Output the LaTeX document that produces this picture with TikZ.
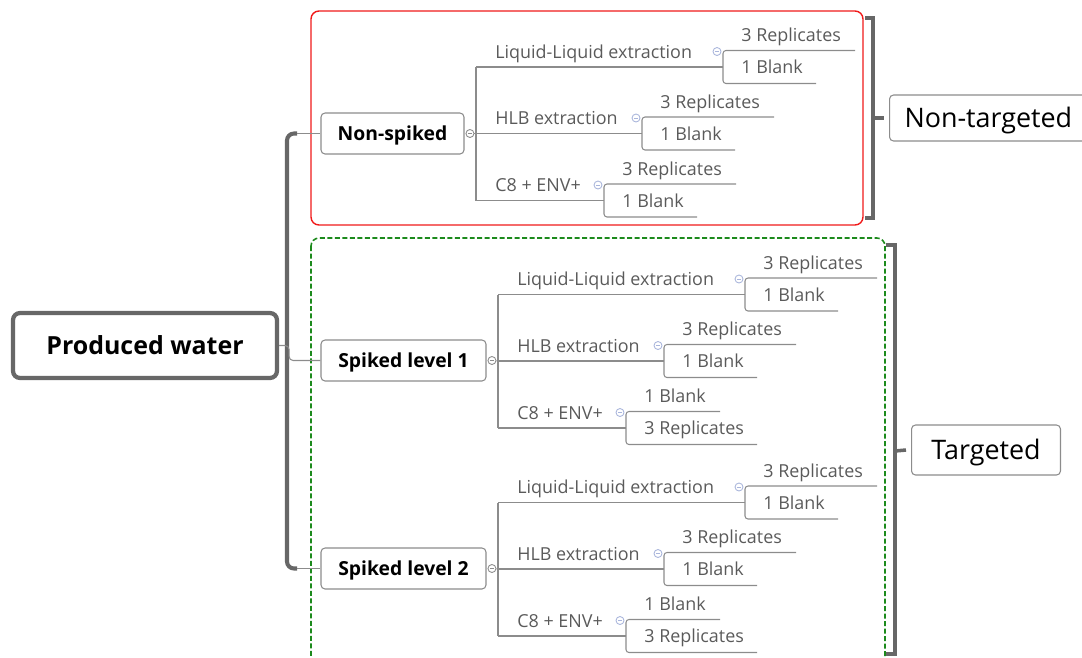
\documentclass[tikz,border=0pt]{standalone}
\usepackage{fontspec}
\setmainfont{Open Sans}
\usetikzlibrary{positioning}

\definecolor{linegray}{HTML}{8C8C8C}
\definecolor{darkgray}{HTML}{676767}
\definecolor{textgray}{HTML}{5A5A5A}
\definecolor{foldblue}{HTML}{AAB6DC}
\definecolor{boxred}{HTML}{F01A1A}
\definecolor{boxgreen}{HTML}{1C8A1C}

\tikzset{
    root/.style={draw=darkgray, line width=2.4pt, rounded corners=0.14cm, fill=white,
        minimum width=5.28cm, minimum height=1.3cm, text height=12.5pt, text depth=2.4pt,
        font=\fontsize{14.2}{16}\selectfont\bfseries},
    topic/.style={draw=linegray, line width=0.6pt, rounded corners=0.08cm, fill=white,
        minimum height=0.82cm, text height=9.8pt, text depth=1.95pt,
        font=\fontsize{11}{13}\selectfont\bfseries},
    tag/.style={draw=linegray, line width=0.6pt, rounded corners=0.08cm, fill=white,
        inner xsep=0.3cm, text height=13.5pt, text depth=2.6pt, font=\fontsize{15.3}{18}\selectfont},
    leaf/.style={text=textgray, inner sep=0pt, anchor=base west, font=\fontsize{10.2}{12}\selectfont},
    fold/.style={circle, draw=#1, fill=white, line width=0.5pt, inner sep=0pt, minimum size=0.16cm,
        path picture={\draw[#1, line width=0.5pt] ([xshift=0.04cm]path picture bounding box.west)
            -- ([xshift=-0.04cm]path picture bounding box.east);}},
    link/.style={draw=linegray, line width=0.6pt},
    trunk/.style={draw=darkgray, line width=2.3pt},
    bracket/.style={draw=darkgray, line width=2pt},
}

\begin{document}
\begin{tikzpicture}[x=0.02cm, y=-0.02cm]
    \clip (0,0) rectangle (1082,657);

    % Frames round the two groups
    \draw[boxred, line width=0.8pt, rounded corners=0.16cm] (311,11) rectangle (863,225);
    \draw[boxgreen, line width=0.9pt, dash pattern=on 0.1cm off 0.05cm, rounded corners=0.16cm]
        (311,238) rectangle (885,700);

    % Main topics
    \node[root] (pw) at (145,345.5) {Produced water};
    \node[topic, minimum width=2.86cm] (ns) at (392.5,133.5) {Non-spiked};
    \node[topic, minimum width=3.3cm] (s1) at (403.5,360.5) {Spiked level 1};
    \node[topic, minimum width=3.3cm] (s2) at (403.5,568.5) {Spiked level 2};

    % Trunk from the root to the three sample types
    \coordinate (ttop) at (297,133.5);
    \coordinate (tbot) at (297,568.5);
    \draw[trunk, rounded corners=0.14cm] (ttop) -- ++(-10,0) |- (tbot);
    \draw[link] (ttop) -- (ns.west);
    \draw[link] (tbot) -- (s2.west);
    \draw[link, rounded corners=0.08cm] (pw.east) -- ++(10,0) |- (s1.west);

    % Extractions and their replicates / blanks
    \foreach \p/\vx/\oy/\ct/\cb in {ns/476/133.5/3 Replicates/1 Blank,
                                    s1/498/361/1 Blank/3 Replicates,
                                    s2/498/569/1 Blank/3 Replicates} {
        \foreach \e/\lab/\dy/\dx/\lt/\lb in {a/Liquid-Liquid extraction/-66.5/247/3 Replicates/1 Blank,
                                             b/HLB extraction/0/166/3 Replicates/1 Blank,
                                             c/C8 + ENV+/67/128/\ct/\cb} {
            \pgfmathsetmacro{\lx}{\vx+\dx}
            \pgfmathsetmacro{\ly}{\oy+\dy}
            \coordinate (\p-\e-in) at (\vx,\ly);
            \coordinate (\p-\e-out) at (\lx,\ly);
            \node[leaf] (\p-\e) at (\vx+19,\ly-9) {\lab};
            \node[leaf] (\p-\e-t) at (\lx+18,\ly-25.5) {\lt};
            \node[leaf] (\p-\e-b) at (\lx+18,\ly+6.5) {\lb};
            \draw[link] (\p-\e-in) -- (\p-\e-out);
            \draw[link, rounded corners=0.06cm] ([shift={(0.28cm,-0.18cm)}]\p-\e-t.base east)
                -| (\lx,\ly+16.5) -- ([shift={(0.26cm,-0.2cm)}]\p-\e-b.base east);
            \node[fold=foldblue] (\p-\e-f) at (\lx-6,\ly-15.5) {};
        }
        \draw[link] (\p-a-in) -- (\p-c-in);
        \node[fold=linegray, right=0.02cm of \p] (\p-f) {};
        \draw[link] (\p-f) -- (\p-b-in);
    }

    % Brackets and analysis types
    \node[tag, anchor=west, minimum height=0.92cm] (nt) at (889,118) {Non-targeted};
    \node[tag, anchor=west, minimum height=1cm, minimum width=2.98cm] (tg) at (911,450) {Targeted};
    \coordinate (ntb) at (873,118);
    \coordinate (tgb) at (895,451);
    \draw[bracket] (865,18) -- (873,18) -- (873,218) -- (865,218);
    \draw[bracket] (886,245) -- (895,245) -- (895,654) -- (886,654);
    \draw[bracket] (ntb) -- ([xshift=-0.1cm]nt.west);
    \draw[bracket] (tgb) -- ([xshift=-0.1cm]tg.west);
\end{tikzpicture}
\end{document}
